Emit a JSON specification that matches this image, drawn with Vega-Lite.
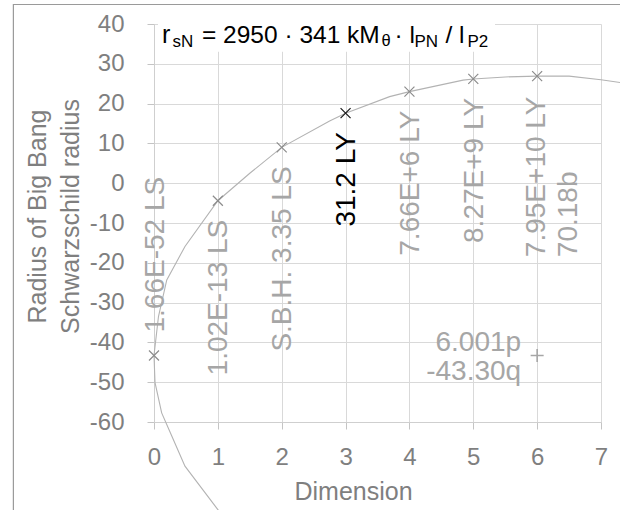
{
  "$schema": "https://vega.github.io/schema/vega-lite/v6.json",
  "width": 447,
  "height": 398,
  "autosize": {"type": "none"},
  "padding": {"left": 154, "top": 24, "right": 19, "bottom": 88},
  "background": "white",
  "config": {
    "font": "Liberation Sans",
    "view": {"stroke": null},
    "axis": {
      "grid": true,
      "labelFont": "Liberation Sans",
      "titleFont": "Liberation Sans",
      "labelFontSize": 24,
      "titleFontSize": 25,
      "titleFontWeight": "normal",
      "labelColor": "#7f7f7f",
      "titleColor": "#7f7f7f",
      "gridColor": "#d9d9d9",
      "gridWidth": 1,
      "domainColor": "#cfcfcf",
      "tickColor": "#c4c4c4",
      "tickSize": 7,
      "labelFlush": false,
      "labelOverlap": false
    }
  },
  "datasets": {
    "curve": [
      {"i": 1, "d": 1.12, "r": -84.5},
      {"i": 2, "d": 1.0, "r": -82.0},
      {"i": 3, "d": 0.485, "r": -71.1},
      {"i": 4, "d": 0.28, "r": -63.6},
      {"i": 5, "d": 0.12, "r": -57.7},
      {"i": 6, "d": 0.016, "r": -50.1},
      {"i": 7, "d": 0.0, "r": -43.3},
      {"i": 8, "d": 0.07, "r": -33.5},
      {"i": 9, "d": 0.2, "r": -24.3},
      {"i": 10, "d": 0.485, "r": -15.9},
      {"i": 11, "d": 1.0, "r": -4.4},
      {"i": 12, "d": 1.5, "r": 2.5},
      {"i": 13, "d": 2.0, "r": 9.0},
      {"i": 14, "d": 2.75, "r": 15.6},
      {"i": 15, "d": 3.0, "r": 17.6},
      {"i": 16, "d": 3.69, "r": 21.75},
      {"i": 17, "d": 4.0, "r": 23.0},
      {"i": 18, "d": 4.84, "r": 25.9},
      {"i": 19, "d": 5.0, "r": 26.2},
      {"i": 20, "d": 5.5, "r": 26.7},
      {"i": 21, "d": 6.0, "r": 26.9},
      {"i": 22, "d": 6.5, "r": 26.9},
      {"i": 23, "d": 7.0, "r": 26.0},
      {"i": 24, "d": 7.3, "r": 25.3},
      {"i": 25, "d": 7.6, "r": 24.4}
    ],
    "points": [
      {"d": 0, "r": -43.3, "label": "1.66E-52 LS"},
      {"d": 1, "r": -4.4, "label": "1.02E-13 LS"},
      {"d": 2, "r": 9.0, "label": "S.B.H. 3.35 LS"},
      {"d": 3, "r": 17.6, "label": "31.2 LY"},
      {"d": 4, "r": 23.0, "label": "7.66E+6 LY"},
      {"d": 5, "r": 26.2, "label": "8.27E+9 LY"},
      {"d": 6, "r": 26.9, "label": ["7.95E+10 LY", "70.18b"]}
    ],
    "extra": [
      {"d": 6, "r": -43.3, "label": ["6.001p", "-43.30q"]}
    ]
  },
  "layer": [
    {
      "data": {"name": "curve"},
      "mark": {"type": "line", "color": "#b3b3b3", "strokeWidth": 1.1, "clip": false},
      "encoding": {
        "x": {"field": "d", "type": "quantitative", "title": "Dimension", "scale": {"domain": [0, 7], "nice": false, "zero": false}, "axis": {"grid": true, "values": [0, 1, 2, 3, 4, 5, 6, 7], "labelExpr": "'' + datum.value", "labelPadding": 16, "titleX": 199, "titleY": 77, "titleBaseline": "alphabetic"}},
        "y": {"field": "r", "type": "quantitative", "title": ["Radius of Big Bang", "Schwarzschild radius"], "scale": {"domain": [-60, 40], "nice": false, "zero": false}, "axis": {"grid": true, "values": [-60, -50, -40, -30, -20, -10, 0, 10, 20, 30, 40], "labelExpr": "'' + datum.value", "labelPadding": 23, "titleAngle": 270, "titleAlign": "center", "titleBaseline": "alphabetic", "titleLineHeight": 33, "titleX": -109, "titleY": 192}},
        "order": {"field": "i", "type": "quantitative"}
      }
    },
    {
      "data": {"values": [{"box": "frame"}]},
      "mark": {"type": "rect", "fill": null, "stroke": "#9a9a9a", "strokeWidth": 1.2, "clip": false},
      "encoding": {
        "x": {"datum": -2.202, "type": "quantitative", "title": "Dimension", "scale": {"domain": [0, 7], "nice": false, "zero": false}, "axis": {"grid": true, "values": [0, 1, 2, 3, 4, 5, 6, 7], "labelExpr": "'' + datum.value", "labelPadding": 16, "titleX": 199, "titleY": 77, "titleBaseline": "alphabetic"}},
        "x2": {"datum": 8},
        "y": {"datum": 44.9, "type": "quantitative", "title": ["Radius of Big Bang", "Schwarzschild radius"], "scale": {"domain": [-60, 40], "nice": false, "zero": false}, "axis": {"grid": true, "values": [-60, -50, -40, -30, -20, -10, 0, 10, 20, 30, 40], "labelExpr": "'' + datum.value", "labelPadding": 23, "titleAngle": 270, "titleAlign": "center", "titleBaseline": "alphabetic", "titleLineHeight": 33, "titleX": -109, "titleY": 192}},
        "y2": {"datum": -90}
      }
    },
    {
      "data": {"name": "points"},
      "mark": {"type": "point", "shape": "M-1,-1L1,1M-1,1L1,-1", "size": 100, "filled": false, "strokeWidth": 1.2, "opacity": 1},
      "encoding": {
        "x": {"field": "d", "type": "quantitative", "title": "Dimension", "scale": {"domain": [0, 7], "nice": false, "zero": false}, "axis": {"grid": true, "values": [0, 1, 2, 3, 4, 5, 6, 7], "labelExpr": "'' + datum.value", "labelPadding": 16, "titleX": 199, "titleY": 77, "titleBaseline": "alphabetic"}},
        "y": {"field": "r", "type": "quantitative", "title": ["Radius of Big Bang", "Schwarzschild radius"], "scale": {"domain": [-60, 40], "nice": false, "zero": false}, "axis": {"grid": true, "values": [-60, -50, -40, -30, -20, -10, 0, 10, 20, 30, 40], "labelExpr": "'' + datum.value", "labelPadding": 23, "titleAngle": 270, "titleAlign": "center", "titleBaseline": "alphabetic", "titleLineHeight": 33, "titleX": -109, "titleY": 192}},
        "color": {"condition": {"test": "datum.d == 3", "value": "#1a1a1a"}, "value": "#8c8c8c"}
      }
    },
    {
      "data": {"name": "extra"},
      "mark": {"type": "point", "shape": "M-1,0L1,0M0,-1L0,1", "size": 169, "filled": false, "strokeWidth": 1.6, "color": "#a6a6a6", "opacity": 1},
      "encoding": {
        "x": {"field": "d", "type": "quantitative", "title": "Dimension", "scale": {"domain": [0, 7], "nice": false, "zero": false}, "axis": {"grid": true, "values": [0, 1, 2, 3, 4, 5, 6, 7], "labelExpr": "'' + datum.value", "labelPadding": 16, "titleX": 199, "titleY": 77, "titleBaseline": "alphabetic"}},
        "y": {"field": "r", "type": "quantitative", "title": ["Radius of Big Bang", "Schwarzschild radius"], "scale": {"domain": [-60, 40], "nice": false, "zero": false}, "axis": {"grid": true, "values": [-60, -50, -40, -30, -20, -10, 0, 10, 20, 30, 40], "labelExpr": "'' + datum.value", "labelPadding": 23, "titleAngle": 270, "titleAlign": "center", "titleBaseline": "alphabetic", "titleLineHeight": 33, "titleX": -109, "titleY": 192}}
      }
    },
    {
      "data": {"name": "points"},
      "transform": [{"filter": "datum.d >= 1 && datum.d <= 5"}],
      "mark": {"type": "text", "angle": 270, "align": "right", "baseline": "middle", "dx": -19, "dy": 1.5, "fontSize": 28, "font": "Liberation Sans"},
      "encoding": {
        "x": {"field": "d", "type": "quantitative", "title": "Dimension", "scale": {"domain": [0, 7], "nice": false, "zero": false}, "axis": {"grid": true, "values": [0, 1, 2, 3, 4, 5, 6, 7], "labelExpr": "'' + datum.value", "labelPadding": 16, "titleX": 199, "titleY": 77, "titleBaseline": "alphabetic"}},
        "y": {"field": "r", "type": "quantitative", "title": ["Radius of Big Bang", "Schwarzschild radius"], "scale": {"domain": [-60, 40], "nice": false, "zero": false}, "axis": {"grid": true, "values": [-60, -50, -40, -30, -20, -10, 0, 10, 20, 30, 40], "labelExpr": "'' + datum.value", "labelPadding": 23, "titleAngle": 270, "titleAlign": "center", "titleBaseline": "alphabetic", "titleLineHeight": 33, "titleX": -109, "titleY": 192}},
        "text": {"field": "label"},
        "color": {"condition": {"test": "datum.d == 3", "value": "#000000"}, "value": "#a6a6a6"}
      }
    },
    {
      "data": {"name": "points"},
      "transform": [{"filter": "datum.d == 0"}],
      "mark": {"type": "text", "angle": 270, "align": "left", "baseline": "middle", "dx": 23, "dy": 1.5, "fontSize": 28, "font": "Liberation Sans", "color": "#a6a6a6"},
      "encoding": {
        "x": {"field": "d", "type": "quantitative", "title": "Dimension", "scale": {"domain": [0, 7], "nice": false, "zero": false}, "axis": {"grid": true, "values": [0, 1, 2, 3, 4, 5, 6, 7], "labelExpr": "'' + datum.value", "labelPadding": 16, "titleX": 199, "titleY": 77, "titleBaseline": "alphabetic"}},
        "y": {"field": "r", "type": "quantitative", "title": ["Radius of Big Bang", "Schwarzschild radius"], "scale": {"domain": [-60, 40], "nice": false, "zero": false}, "axis": {"grid": true, "values": [-60, -50, -40, -30, -20, -10, 0, 10, 20, 30, 40], "labelExpr": "'' + datum.value", "labelPadding": 23, "titleAngle": 270, "titleAlign": "center", "titleBaseline": "alphabetic", "titleLineHeight": 33, "titleX": -109, "titleY": 192}},
        "text": {"field": "label"}
      }
    },
    {
      "data": {"name": "points"},
      "transform": [{"filter": "datum.d == 6"}],
      "mark": {"type": "text", "angle": 270, "align": "left", "baseline": "middle", "dx": -181, "dy": 0, "lineHeight": 31.5, "fontSize": 28, "font": "Liberation Sans", "color": "#a6a6a6"},
      "encoding": {
        "x": {"field": "d", "type": "quantitative", "title": "Dimension", "scale": {"domain": [0, 7], "nice": false, "zero": false}, "axis": {"grid": true, "values": [0, 1, 2, 3, 4, 5, 6, 7], "labelExpr": "'' + datum.value", "labelPadding": 16, "titleX": 199, "titleY": 77, "titleBaseline": "alphabetic"}},
        "y": {"field": "r", "type": "quantitative", "title": ["Radius of Big Bang", "Schwarzschild radius"], "scale": {"domain": [-60, 40], "nice": false, "zero": false}, "axis": {"grid": true, "values": [-60, -50, -40, -30, -20, -10, 0, 10, 20, 30, 40], "labelExpr": "'' + datum.value", "labelPadding": 23, "titleAngle": 270, "titleAlign": "center", "titleBaseline": "alphabetic", "titleLineHeight": 33, "titleX": -109, "titleY": 192}},
        "text": {"field": "label"}
      }
    },
    {
      "data": {"name": "extra"},
      "mark": {"type": "text", "align": "right", "baseline": "middle", "dx": -16, "dy": -13, "lineHeight": 29, "fontSize": 28, "font": "Liberation Sans", "color": "#a6a6a6"},
      "encoding": {
        "x": {"field": "d", "type": "quantitative", "title": "Dimension", "scale": {"domain": [0, 7], "nice": false, "zero": false}, "axis": {"grid": true, "values": [0, 1, 2, 3, 4, 5, 6, 7], "labelExpr": "'' + datum.value", "labelPadding": 16, "titleX": 199, "titleY": 77, "titleBaseline": "alphabetic"}},
        "y": {"field": "r", "type": "quantitative", "title": ["Radius of Big Bang", "Schwarzschild radius"], "scale": {"domain": [-60, 40], "nice": false, "zero": false}, "axis": {"grid": true, "values": [-60, -50, -40, -30, -20, -10, 0, 10, 20, 30, 40], "labelExpr": "'' + datum.value", "labelPadding": 23, "titleAngle": 270, "titleAlign": "center", "titleBaseline": "alphabetic", "titleLineHeight": 33, "titleX": -109, "titleY": 192}},
        "text": {"field": "label"}
      }
    },
    {
      "data": {"values": [{"box": "title"}]},
      "mark": {"type": "rect", "fill": "white", "stroke": null, "clip": false},
      "encoding": {
        "x": {"datum": 0.063, "type": "quantitative", "title": "Dimension", "scale": {"domain": [0, 7], "nice": false, "zero": false}, "axis": {"grid": true, "values": [0, 1, 2, 3, 4, 5, 6, 7], "labelExpr": "'' + datum.value", "labelPadding": 16, "titleX": 199, "titleY": 77, "titleBaseline": "alphabetic"}},
        "x2": {"datum": 5.34},
        "y": {"datum": 42, "type": "quantitative", "title": ["Radius of Big Bang", "Schwarzschild radius"], "scale": {"domain": [-60, 40], "nice": false, "zero": false}, "axis": {"grid": true, "values": [-60, -50, -40, -30, -20, -10, 0, 10, 20, 30, 40], "labelExpr": "'' + datum.value", "labelPadding": 23, "titleAngle": 270, "titleAlign": "center", "titleBaseline": "alphabetic", "titleLineHeight": 33, "titleX": -109, "titleY": 192}},
        "y2": {"datum": 33}
      }
    },
    {
      "data": {"values": [
        {"t": "r", "part": "main1"},
        {"t": "= 2950 · 341 kM", "part": "main2"},
        {"t": "· l", "part": "main3"},
        {"t": "/ l", "part": "main4"},
        {"t": "sN", "part": "sub1"},
        {"t": "θ", "part": "sub2"},
        {"t": "PN", "part": "sub3"},
        {"t": "P2", "part": "sub4"}
      ]},
      "layer": [
        {
          "transform": [{"filter": "datum.part == 'main1'"}],
          "mark": {"type": "text", "align": "left", "baseline": "alphabetic", "dx": 8, "dy": 19, "fontSize": 25, "color": "#000000"}
        },
        {
          "transform": [{"filter": "datum.part == 'sub1'"}],
          "mark": {"type": "text", "align": "left", "baseline": "alphabetic", "dx": 18.5, "dy": 22.5, "fontSize": 17, "color": "#000000"}
        },
        {
          "transform": [{"filter": "datum.part == 'main2'"}],
          "mark": {"type": "text", "align": "left", "baseline": "alphabetic", "dx": 48, "dy": 19, "fontSize": 24.5, "color": "#000000"}
        },
        {
          "transform": [{"filter": "datum.part == 'sub2'"}],
          "mark": {"type": "text", "align": "left", "baseline": "alphabetic", "dx": 227.5, "dy": 22, "fontSize": 16.5, "color": "#000000"}
        },
        {
          "transform": [{"filter": "datum.part == 'main3'"}],
          "mark": {"type": "text", "align": "left", "baseline": "alphabetic", "dx": 240.5, "dy": 19, "fontSize": 24.5, "color": "#000000"}
        },
        {
          "transform": [{"filter": "datum.part == 'sub3'"}],
          "mark": {"type": "text", "align": "left", "baseline": "alphabetic", "dx": 260.5, "dy": 22.5, "fontSize": 17, "color": "#000000"}
        },
        {
          "transform": [{"filter": "datum.part == 'main4'"}],
          "mark": {"type": "text", "align": "left", "baseline": "alphabetic", "dx": 291.5, "dy": 19, "fontSize": 24.5, "color": "#000000"}
        },
        {
          "transform": [{"filter": "datum.part == 'sub4'"}],
          "mark": {"type": "text", "align": "left", "baseline": "alphabetic", "dx": 313.5, "dy": 22.5, "fontSize": 17, "color": "#000000"}
        }
      ],
      "encoding": {
        "x": {"datum": 0, "type": "quantitative", "title": "Dimension", "scale": {"domain": [0, 7], "nice": false, "zero": false}, "axis": {"grid": true, "values": [0, 1, 2, 3, 4, 5, 6, 7], "labelExpr": "'' + datum.value", "labelPadding": 16, "titleX": 199, "titleY": 77, "titleBaseline": "alphabetic"}},
        "y": {"datum": 40, "type": "quantitative", "title": ["Radius of Big Bang", "Schwarzschild radius"], "scale": {"domain": [-60, 40], "nice": false, "zero": false}, "axis": {"grid": true, "values": [-60, -50, -40, -30, -20, -10, 0, 10, 20, 30, 40], "labelExpr": "'' + datum.value", "labelPadding": 23, "titleAngle": 270, "titleAlign": "center", "titleBaseline": "alphabetic", "titleLineHeight": 33, "titleX": -109, "titleY": 192}},
        "text": {"field": "t"}
      }
    }
  ]
}
